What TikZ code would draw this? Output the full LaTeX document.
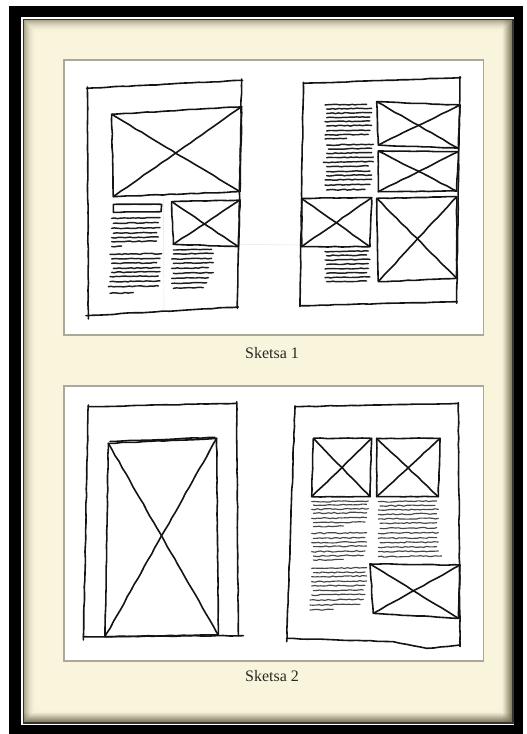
\documentclass[tikz,border=0pt]{standalone}
\usepackage{fontspec}
\setmainfont{Liberation Serif}
\usetikzlibrary{decorations.pathmorphing}
\definecolor{cream}{RGB}{249,245,220}
\definecolor{panelrule}{RGB}{172,168,150}
\definecolor{captxt}{RGB}{40,40,36}
\definecolor{shadowc}{RGB}{95,88,60}
\tikzset{
  pen/.style={line width=1.6pt, line cap=round, line join=round, black!92,
    decorate, decoration={random steps, segment length=7pt, amplitude=0.35pt}},
  scrib/.style={line width=1.45pt, line cap=round, line join=round, black!88,
    decorate, decoration={random steps, segment length=3pt, amplitude=0.45pt}},
  scribl/.style={line width=1.15pt, line cap=round, line join=round, black!72,
    decorate, decoration={random steps, segment length=3pt, amplitude=0.6pt}},
  faint/.style={line width=0.6pt, black!8},
  panel/.style={draw=panelrule, line width=1.3pt, fill=white},
  caption/.style={text=captxt, font=\fontsize{16}{18}\selectfont, inner sep=0pt}
}
\newcommand\imgbox[4]{%
  \draw[pen] (#1) -- (#2) -- (#3) -- (#4) -- cycle;
  \draw[pen] (#1) -- (#3);
  \draw[pen] (#2) -- (#4);}
\begin{document}
\begin{tikzpicture}[x=1pt,y=-1pt]
\pgfmathsetseed{7}
\useasboundingbox (0,0) rectangle (527,734);
\fill[white] (0,0) rectangle (527,734);
% outer black frame
\fill[black] (9,6) rectangle (523,740);
\fill[white] (21,17) rectangle (514,725);
\fill[black!80] (22.5,18.5) rectangle (514,723.5);
\fill[cream] (24,20) rectangle (512,722);
% inner vignette
\foreach \i in {0,...,11}{
  \pgfmathsetmacro\op{0.5*(1-\i/12)*(1-\i/12)}
  \draw[shadowc, opacity=\op, line width=1pt] (24.5+\i,20.5+\i) rectangle (511.5-\i,721.5-\i);
}
\foreach \i in {0,...,8}{
  \pgfmathsetmacro\op{0.45*(1-\i/9)}
  \fill[shadowc, opacity=\op] (511-\i,20) rectangle (512-\i,722);
  \fill[shadowc, opacity=\op] (24,721-\i) rectangle (512,722-\i);
}
% panels
\draw[panel] (64,60) rectangle (483.5,335);
\draw[panel] (64,386) rectangle (483.5,661);
\node[caption] (cap1) at (272,353) {Sketsa 1};
\node[caption] (cap2) at (272,676) {Sketsa 2};

% ---------- Sketsa 1 ----------
\begin{scope}[xshift=60pt, yshift=-55pt, x=0.33333pt, y=-0.33333pt]
  \draw[faint] (540,568) -- (720,570);
  \draw[faint] (310,430) -- (312,765);
  % left page
  \draw[pen] (80,100) -- (548,76);
  \draw[pen] (545,72) -- (532,760);
  \draw[pen] (78,782) -- (535,756);
  \draw[pen] (82,96) -- (85,792);
  \imgbox{155,178}{545,155}{540,410}{160,425}
  \imgbox{335,440}{540,435}{535,575}{340,568}
  \draw[pen] (160,448) -- (305,448) -- (303,470) -- (160,472) -- cycle;
  \foreach \yy/\a/\b in {490/155/300, 505/160/295, 520/155/300, 535/160/290, 548/155/295, 560/155/290, 575/155/185, 598/150/305, 612/155/300, 625/155/290, 640/160/300, 652/155/300, 665/150/295, 680/150/300, 695/145/295, 715/150/220}
    \draw[scrib] (\a,\yy) -- (\b,\yy-2);
  \foreach \yy/\a/\b in {585/340/455, 597/340/460, 612/335/455, 625/340/460, 640/335/445, 655/340/460, 670/335/445, 685/335/440, 700/340/430}
    \draw[scrib] (\a,\yy) -- (\b,\yy-2);
  % right page
  \draw[pen] (730,85) -- (1202,68);
  \draw[pen] (1200,65) -- (1190,745);
  \draw[pen] (720,752) -- (1192,740);
  \draw[pen] (730,82) -- (720,755);
  \imgbox{950,140}{1200,150}{1195,280}{955,270}
  \imgbox{955,288}{1195,290}{1190,408}{955,410}
  \imgbox{725,430}{935,428}{930,575}{725,575}
  \imgbox{950,430}{1190,425}{1190,670}{955,680}
  \foreach \yy/\a/\b in {150/795/920, 162/800/935, 175/800/935, 188/800/930, 200/795/930, 213/800/935, 228/800/930, 240/795/925, 252/795/860, 270/800/940, 282/805/935, 295/800/935, 308/800/940, 322/790/940, 335/800/925, 350/800/930, 362/800/935, 375/795/935, 390/795/930, 405/800/915}
    \draw[scrib] (\a,\yy) -- (\b,\yy-2);
  \foreach \yy/\a/\b in {590/795/925, 602/800/920, 615/795/930, 628/800/925, 642/795/925, 655/800/920, 668/795/930, 680/800/920}
    \draw[scrib] (\a,\yy) -- (\b,\yy-2);
\end{scope}

% ---------- Sketsa 2 ----------
\begin{scope}[xshift=60pt, yshift=-370pt, x=0.33333pt, y=-0.33333pt]
  % left page
  \draw[pen] (85,110) -- (530,100);
  \draw[pen] (530,95) -- (535,797);
  \draw[pen] (70,800) -- (550,797);
  \draw[pen] (85,105) -- (70,810);
  \imgbox{145,220}{470,205}{475,795}{135,800}
  \draw[pen] (150,214) -- (465,202);
  % right page
  \draw[pen] (705,110) -- (1195,100);
  \draw[pen] (1195,98) -- (1200,830);
  \draw[pen] (680,805) -- (1000,815) -- (1100,835) -- (1200,825);
  \draw[pen] (705,108) -- (680,815);
  \imgbox{760,205}{935,205}{930,380}{755,380}
  \imgbox{950,205}{1140,205}{1135,380}{950,380}
  \imgbox{930,582}{1200,585}{1195,745}{940,730}
  \foreach \yy/\a/\b in {395/755/925, 405/760/920, 418/755/925, 430/760/920, 445/755/920, 458/760/915, 470/760/850, 490/755/920, 505/760/915, 518/755/920, 530/760/920, 545/755/915, 558/760/910, 570/760/850, 595/755/920, 608/760/915, 620/755/920, 635/755/920, 648/755/915, 662/760/910, 675/755/915, 690/750/910, 705/750/900, 720/750/820}
    \draw[scribl] (\a,\yy) -- (\b,\yy-2);
  \foreach \yy/\a/\b in {395/955/1130, 408/960/1125, 420/955/1135, 433/955/1130, 447/955/1135, 460/960/1130, 475/960/1130, 490/955/1135, 505/955/1130, 518/960/1135, 532/955/1130, 545/955/1135, 560/955/1145}
    \draw[scribl] (\a,\yy) -- (\b,\yy-2);
\end{scope}
\end{tikzpicture}
\end{document}
